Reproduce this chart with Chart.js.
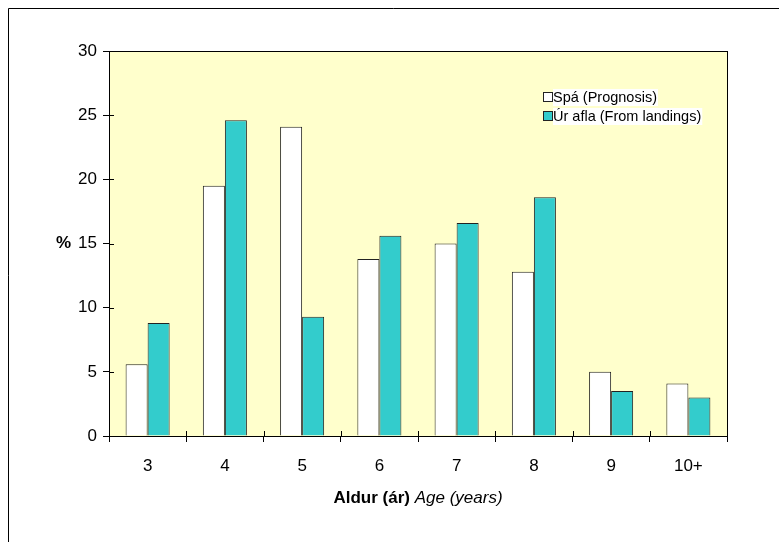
<!DOCTYPE html>
<html lang="is">
<head>
    <meta charset="utf-8">
    <title>Aldursdreifing</title>
    <script src="https://cdn.jsdelivr.net/npm/chart.js"></script>
    <style>
        body { margin: 0; background: #fff; }
        #wrap { position: relative; width: 779px; height: 542px; }
    </style>
</head>
<body>
    <div id="wrap">
        <canvas id="myChart"></canvas>
    </div>
    <script>
        // data
        const ages = ['3', '4', '5', '6', '7', '8', '9', '10+'];
        const prognosis = [5.6, 19.5, 24.1, 13.8, 15.0, 12.8, 5.0, 4.1];
        const landings = [8.8, 24.6, 9.3, 15.6, 16.6, 18.6, 3.5, 3.0];
        const yTicks = [0, 5, 10, 15, 20, 25, 30];

        const FONT = '"Liberation Sans", Arial, sans-serif';
        const TEAL = '#33cccc';

        // yellow plot background, frame, inner tick marks, labels and legend
        const decor = {
            id: 'decor',
            beforeDraw(chart) {
                const { ctx, chartArea: a } = chart;
                ctx.save();
                ctx.fillStyle = '#ffffcc';
                ctx.fillRect(a.left, a.top, a.right - a.left, a.bottom - a.top);
                // outer border (left and top only visible)
                ctx.strokeStyle = '#000';
                ctx.lineWidth = 1;
                ctx.beginPath();
                ctx.moveTo(8.5, 542);
                ctx.lineTo(8.5, 8.5);
                ctx.lineTo(779, 8.5);
                ctx.stroke();
                ctx.restore();
            },
            afterDraw(chart) {
                const { ctx, chartArea: a, scales } = chart;
                ctx.save();
                ctx.strokeStyle = '#000';
                ctx.lineWidth = 1;
                ctx.strokeRect(Math.round(a.left) + 0.5, Math.round(a.top) + 0.5,
                    Math.round(a.right - a.left), Math.round(a.bottom - a.top));

                // tick marks reaching into the plot
                ctx.beginPath();
                yTicks.forEach(v => {
                    const y = Math.round(scales.y.getPixelForValue(v)) + 0.5;
                    ctx.moveTo(a.left, y);
                    ctx.lineTo(a.left + 5, y);
                });
                for (let i = 0; i <= ages.length; i++) {
                    const x = Math.round(a.left + (a.right - a.left) * i / ages.length) + 0.5;
                    ctx.moveTo(x, a.bottom);
                    ctx.lineTo(x, a.bottom - 5);
                }
                ctx.stroke();

                // "%" axis label
                ctx.fillStyle = '#000';
                ctx.textBaseline = 'middle';
                ctx.textAlign = 'right';
                ctx.font = 'bold 17px ' + FONT;
                ctx.fillText('%', 71, (a.top + a.bottom) / 2);

                // x axis title, bold part then italic part
                const part1 = 'Aldur (ár) ';
                const part2 = 'Age (years)';
                ctx.font = 'bold 17px ' + FONT;
                const w1 = ctx.measureText(part1).width;
                ctx.font = 'italic 17px ' + FONT;
                const w2 = ctx.measureText(part2).width;
                const x0 = (a.left + a.right) / 2 - (w1 + w2) / 2;
                ctx.textAlign = 'left';
                ctx.font = 'bold 17px ' + FONT;
                ctx.fillText(part1, x0, 498);
                ctx.font = 'italic 17px ' + FONT;
                ctx.fillText(part2, x0 + w1, 498);

                // legend
                ctx.font = '14.5px ' + FONT;
                const rows = [
                    { text: 'Spá (Prognosis)', color: '#ffffff', y: 97 },
                    { text: 'Úr afla (From landings)', color: TEAL, y: 116 }
                ];
                rows.forEach(r => {
                    const tw = ctx.measureText(r.text).width;
                    ctx.fillStyle = '#ffffff';
                    ctx.fillRect(553, r.y - 8, tw + 1, 17);
                    ctx.fillStyle = r.color;
                    ctx.fillRect(543.5, r.y - 4.5, 9, 9);
                    ctx.strokeStyle = '#222';
                    ctx.strokeRect(543.5, r.y - 4.5, 9, 9);
                    ctx.fillStyle = '#000';
                    ctx.fillText(r.text, 553, r.y + 1);
                });
                ctx.restore();
            }
        };

        const ctx = document.getElementById('myChart').getContext('2d');
        new Chart(ctx, {
            type: 'bar',
            data: {
                labels: ages,
                datasets: [{
                    label: 'Spá (Prognosis)',
                    data: prognosis,
                    backgroundColor: '#ffffff',
                    borderColor: '#222',
                    borderWidth: 1
                }, {
                    label: 'Úr afla (From landings)',
                    data: landings,
                    backgroundColor: TEAL,
                    borderColor: '#222',
                    borderWidth: 1
                }]
            },
            options: {
                responsive: true,
                maintainAspectRatio: false,
                animation: false,
                layout: { padding: { left: 0, top: 51, right: 52, bottom: 0 } },
                categoryPercentage: 0.57,
                barPercentage: 1,
                plugins: {
                    legend: { display: false },
                    tooltip: { enabled: false }
                },
                scales: {
                    x: {
                        grid: { drawOnChartArea: false, tickLength: 6, color: '#000', offset: true },
                        border: { color: '#000' },
                        ticks: { color: '#000', font: { family: FONT, size: 17 }, padding: 14, maxRotation: 0 },
                        afterFit(scale) { scale.height = 106; }
                    },
                    y: {
                        min: 0,
                        max: 30,
                        grid: { drawOnChartArea: false, tickLength: 6, color: '#000' },
                        border: { color: '#000' },
                        ticks: { color: '#000', stepSize: 5, font: { family: FONT, size: 17 }, padding: 6 },
                        afterFit(scale) { scale.width = 109; }
                    }
                }
            },
            plugins: [decor]
        });
    </script>
</body>
</html>
